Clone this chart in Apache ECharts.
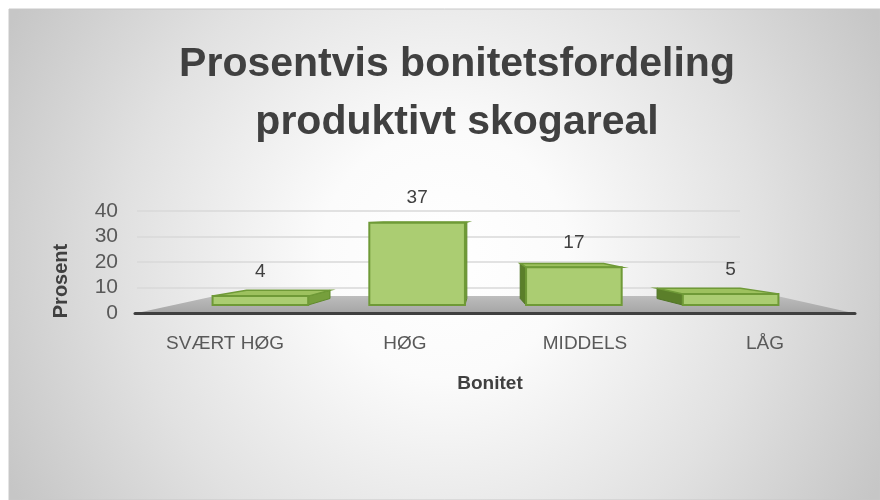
<!DOCTYPE html>
<html>
<head>
<meta charset="utf-8">
<script src="https://cdn.jsdelivr.net/npm/echarts@6/dist/echarts.min.js"></script>
<style>
  html, body { margin: 0; padding: 0; background: #fff; }
  #chart { width: 880px; height: 500px; }
</style>
</head>
<body>
<div id="chart"></div>
<script>
// data
var categories = ['SVÆRT HØG', 'HØG', 'MIDDELS', 'LÅG']
var values = [4, 37, 17, 5]
var yTicks = [0, 10, 20, 30, 40]

var font = 'Liberation Sans, sans-serif'
var textColor = '#595959'

// fake perspective for the 3d look of the columns
var vp = { x: 480, y: 215, kx: 0.127, ky: 0.072 }

function toBack(p) {
  return [p[0] - (p[0] - vp.x) * vp.kx, p[1] - (p[1] - vp.y) * vp.ky]
}

function renderBox(params, api) {
  var idx = api.value(0)
  var top = api.coord([idx, api.value(1)])
  var base = api.coord([idx, 0])
  var w = api.size([1, 0])[0] * 0.61
  var x0 = top[0] - w / 2
  var x1 = top[0] + w / 2
  var y0 = top[1]
  var y1 = base[1]
  var tl = [x0, y0], tr = [x1, y0], bl = [x0, y1], br = [x1, y1]
  var btl = toBack(tl), btr = toBack(tr), bbl = toBack(bl), bbr = toBack(br)
  var children = []
  // side face
  if (top[0] < vp.x) {
    children.push({
      type: 'polygon',
      shape: { points: [tr, btr, bbr, br] },
      style: { fill: '#769f3c', stroke: '#5f8a2b', lineWidth: 1 }
    })
  } else {
    children.push({
      type: 'polygon',
      shape: { points: [tl, btl, bbl, bl] },
      style: { fill: '#5b7f2a', stroke: '#4f7424', lineWidth: 1 }
    })
  }
  // top face
  if (y0 > vp.y) {
    children.push({
      type: 'polygon',
      shape: { points: [tl, tr, btr, btl] },
      style: { fill: '#9dc15e', stroke: '#6f9a37', lineWidth: 1.5 }
    })
  }
  // front face
  children.push({
    type: 'rect',
    shape: { x: x0, y: y0, width: x1 - x0, height: y1 - y0 },
    style: { fill: '#abcd72', stroke: '#6f9a37', lineWidth: 2 }
  })
  return { type: 'group', children: children }
}

var chart = echarts.init(document.getElementById('chart'))

chart.setOption({
  animation: false,
  textStyle: { fontFamily: font },
  graphic: [
    {
      type: 'rect',
      z: -10,
      shape: { x: 9, y: 9, width: 871, height: 491 },
      style: {
        fill: {
          type: 'radial', x: 0.5, y: 0.5, r: 1,
          colorStops: [
            { offset: 0, color: '#ffffff' },
            { offset: 0.25, color: '#fbfbfb' },
            { offset: 0.65, color: '#e1e1e1' },
            { offset: 1, color: '#c6c6c6' }
          ]
        },
        stroke: '#c8c8c8',
        lineWidth: 1
      }
    },
    {
      // floor of the 3d plot
      type: 'polygon',
      z: -5,
      shape: { points: [[137, 313], [215, 296], [777, 296], [853, 313]] },
      style: {
        fill: {
          type: 'linear', x: 0, y: 0, x2: 0, y2: 1,
          colorStops: [
            { offset: 0, color: '#bdbdbd' },
            { offset: 1, color: '#a5a5a5' }
          ]
        }
      }
    },
    {
      type: 'text',
      x: 61, y: 281,
      rotation: Math.PI / 2,
      style: {
        text: 'Prosent',
        fill: '#404040',
        font: 'bold 20px ' + font,
        align: 'center',
        verticalAlign: 'middle'
      }
    }
  ],
  title: {
    text: 'Prosentvis bonitetsfordeling\nproduktivt skogareal',
    left: 452,
    top: 31,
    textAlign: 'center',
    textStyle: {
      fontFamily: font,
      fontSize: 41,
      fontWeight: 'bold',
      color: '#404040',
      lineHeight: 58
    }
  },
  grid: [
    // gridlines + y labels
    { left: 137, right: 140, top: 211, bottom: 187 },
    // columns
    { left: 182, right: 71, top: 216, bottom: 195 },
    // category labels + floor line
    { left: 135, right: 25, top: 211, bottom: 187 }
  ],
  xAxis: [
    { gridIndex: 0, type: 'category', data: categories, show: false },
    { gridIndex: 1, type: 'category', data: categories, show: false },
    {
      gridIndex: 2,
      type: 'category',
      data: categories,
      axisTick: { show: false },
      axisLine: { lineStyle: { color: '#3f3f3f', width: 3 } },
      axisLabel: { color: textColor, fontSize: 19, margin: 21 },
      name: 'Bonitet',
      nameLocation: 'middle',
      nameGap: 61,
      nameTextStyle: { color: '#404040', fontSize: 19, fontWeight: 'bold', padding: [0, 10, 0, 0] }
    }
  ],
  yAxis: [
    {
      gridIndex: 0,
      type: 'value',
      min: yTicks[0],
      max: yTicks[yTicks.length - 1],
      interval: 10,
      axisLine: { show: false },
      axisTick: { show: false },
      axisLabel: { color: textColor, fontSize: 21, margin: 19 },
      splitLine: { lineStyle: { color: '#d9d9d9', width: 1.5 } }
    },
    { gridIndex: 1, type: 'value', min: 0, max: 40, show: false },
    { gridIndex: 2, type: 'value', min: 0, max: 40, show: false }
  ],
  series: [
    {
      type: 'custom',
      xAxisIndex: 1,
      yAxisIndex: 1,
      renderItem: renderBox,
      data: values.map(function (v, i) { return [i, v] }),
      encode: { x: 0, y: 1 }
    },
    {
      // value labels only
      type: 'bar',
      xAxisIndex: 1,
      yAxisIndex: 1,
      data: values,
      barWidth: 96,
      itemStyle: { color: 'rgba(0,0,0,0)' },
      label: {
        show: true,
        position: 'top',
        distance: 15,
        color: '#404040',
        fontSize: 19
      }
    }
  ]
})
</script>
</body>
</html>
